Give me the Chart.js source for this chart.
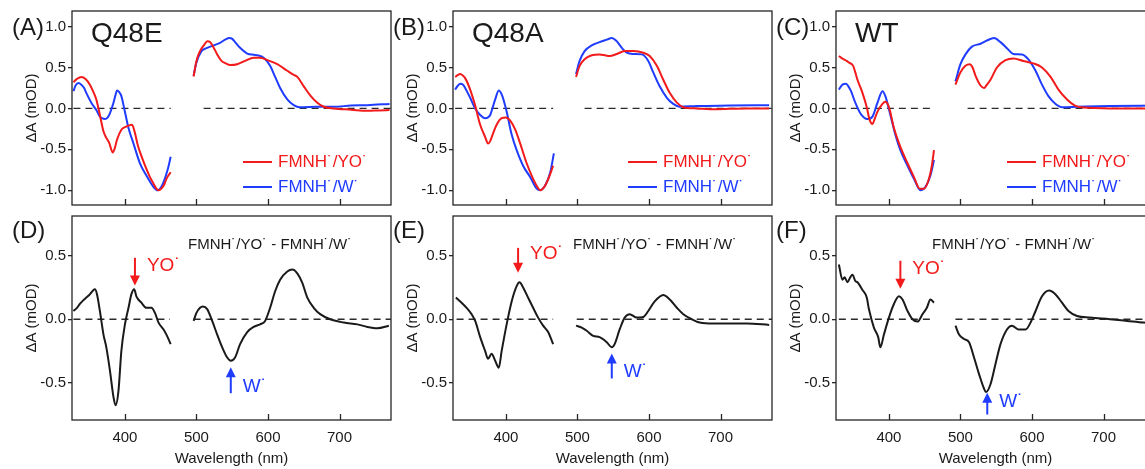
<!DOCTYPE html>
<html>
<head>
<meta charset="utf-8">
<script src="https://cdn.jsdelivr.net/npm/chart.js@4.4.1/dist/chart.umd.min.js"></script>
<style>
  html, body { margin: 0; padding: 0; background: #fff; }
  body { width: 1145px; height: 469px; overflow: hidden; position: relative; }
  canvas { position: absolute; }
</style>
</head>
<body>
<canvas id="pA" width="395" height="216" style="left:0px;top:0px"></canvas>
<canvas id="pB" width="395" height="216" style="left:381px;top:0px"></canvas>
<canvas id="pC" width="395" height="216" style="left:764px;top:0px"></canvas>
<canvas id="pD" width="395" height="264" style="left:0px;top:205px"></canvas>
<canvas id="pE" width="395" height="264" style="left:381px;top:205px"></canvas>
<canvas id="pF" width="395" height="264" style="left:764px;top:205px"></canvas>
<script>
// wavelength (nm) / dA (mOD) pairs; null marks the gap between the two detector windows
const q48eYO = [[328,0.32],[333,0.36],[339,0.385],[345,0.36],[351,0.29],[356,0.20],[360,0.11],[365,-0.08],[370,-0.28],[374,-0.36],[378,-0.42],[383,-0.54],[386,-0.48],[389,-0.38],[395,-0.26],[400,-0.23],[405,-0.21],[410,-0.20],[414,-0.30],[418,-0.45],[423,-0.58],[430,-0.74],[435,-0.84],[440,-0.92],[444,-0.98],[447,-1.0],[451,-0.98],[455,-0.93],[458,-0.86],[464,-0.78],
  null,
  [496,0.39],[500,0.58],[505,0.70],[511,0.78],[515,0.82],[519,0.81],[523,0.76],[529,0.66],[535,0.58],[541,0.55],[547,0.53],[557,0.54],[568,0.58],[580,0.62],[589,0.62],[599,0.59],[613,0.54],[627,0.46],[636,0.41],[641,0.385],[650,0.27],[659,0.16],[669,0.07],[678,0.02],[692,0.0],[716,-0.015],[739,-0.03],[755,-0.025],[770,-0.02]];
const q48eW = [[328,0.21],[331,0.28],[335,0.31],[339,0.29],[343,0.25],[346,0.19],[353,0.07],[360,-0.02],[365,-0.10],[368,-0.12],[372,-0.13],[376,-0.11],[379,-0.06],[384,0.07],[387,0.17],[389,0.22],[392,0.20],[395,0.15],[399,0.0],[405,-0.24],[412,-0.43],[421,-0.67],[430,-0.82],[440,-0.96],[446,-1.0],[450,-0.97],[454,-0.90],[460,-0.74],[464,-0.59],
  null,
  [496,0.40],[500,0.56],[507,0.70],[515,0.74],[524,0.77],[533,0.80],[540,0.84],[546,0.86],[550,0.85],[554,0.81],[561,0.74],[571,0.67],[580,0.655],[585,0.65],[594,0.62],[603,0.52],[610,0.385],[617,0.25],[627,0.11],[636,0.04],[645,0.015],[669,0.02],[692,0.02],[716,0.035],[739,0.04],[770,0.055]];

const q48aYO = [[329,0.385],[333,0.41],[336,0.42],[340,0.40],[343,0.37],[350,0.23],[357,0.035],[364,-0.20],[371,-0.35],[375,-0.43],[378,-0.40],[381,-0.33],[387,-0.20],[394,-0.12],[400,-0.11],[406,-0.15],[413,-0.26],[420,-0.43],[429,-0.67],[438,-0.86],[444,-0.96],[448,-1.0],[455,-0.94],[462,-0.80],[466,-0.70],
  null,
  [498,0.385],[503,0.52],[510,0.60],[520,0.65],[531,0.66],[540,0.645],[545,0.64],[555,0.665],[566,0.70],[578,0.70],[592,0.68],[601,0.64],[611,0.52],[620,0.35],[629,0.19],[639,0.07],[648,0.015],[667,0.0],[690,-0.01],[737,0.0],[768,0.0]];
const q48aW = [[329,0.23],[333,0.28],[336,0.30],[340,0.29],[343,0.25],[350,0.13],[357,0.0],[364,-0.08],[371,-0.12],[375,-0.11],[378,-0.08],[385,0.11],[390,0.22],[395,0.15],[401,-0.04],[408,-0.32],[415,-0.51],[424,-0.70],[434,-0.84],[443,-0.98],[448,-1.0],[455,-0.94],[462,-0.78],[467,-0.55],
  null,
  [498,0.42],[503,0.58],[510,0.70],[520,0.77],[531,0.81],[541,0.84],[548,0.86],[555,0.82],[562,0.74],[569,0.68],[578,0.665],[590,0.66],[599,0.58],[606,0.44],[615,0.27],[625,0.13],[634,0.055],[643,0.02],[667,0.03],[713,0.035],[768,0.04]];

const wtYO = [[330,0.64],[333,0.62],[337,0.60],[341,0.58],[344,0.56],[350,0.52],[353,0.44],[356,0.35],[363,0.19],[369,0.015],[373,-0.14],[377,-0.19],[380,-0.13],[384,-0.04],[391,0.055],[395,0.08],[400,0.015],[407,-0.24],[416,-0.47],[426,-0.67],[435,-0.84],[443,-0.98],[449,-0.98],[456,-0.86],[460,-0.70],[463,-0.51],
  null,
  [493,0.29],[500,0.44],[507,0.52],[513,0.54],[517,0.50],[521,0.40],[528,0.28],[533,0.25],[537,0.29],[542,0.35],[551,0.50],[563,0.59],[574,0.61],[588,0.58],[602,0.55],[614,0.50],[626,0.385],[637,0.23],[649,0.11],[660,0.035],[672,0.01],[709,0.0],[772,0.0]];
const wtW = [[330,0.23],[335,0.29],[340,0.30],[344,0.26],[347,0.21],[353,0.07],[360,-0.06],[365,-0.11],[370,-0.13],[377,-0.10],[384,0.07],[391,0.21],[395,0.15],[402,-0.08],[409,-0.32],[416,-0.51],[426,-0.70],[435,-0.86],[444,-1.0],[451,-0.96],[458,-0.82],[463,-0.63],
  null,
  [493,0.33],[500,0.54],[507,0.66],[516,0.755],[528,0.79],[537,0.83],[547,0.86],[556,0.81],[565,0.735],[574,0.665],[586,0.66],[595,0.60],[605,0.46],[614,0.29],[623,0.15],[633,0.055],[642,0.015],[663,0.02],[709,0.03],[772,0.035]];

// difference spectra FMNH/YO - FMNH/W
const diffQ48E = [[328,0.065],[333,0.09],[337,0.12],[342,0.15],[346,0.17],[350,0.19],[353,0.21],[358,0.235],[361,0.195],[365,0.065],[370,-0.12],[374,-0.22],[379,-0.40],[384,-0.61],[387,-0.675],[391,-0.56],[395,-0.25],[400,-0.04],[405,0.09],[409,0.195],[413,0.235],[416,0.18],[423,0.13],[430,0.09],[437,0.09],[442,0.05],[447,-0.026],[454,-0.08],[458,-0.12],[464,-0.195],
  null,
  [496,-0.013],[500,0.05],[505,0.09],[509,0.10],[515,0.08],[522,-0.013],[529,-0.12],[536,-0.22],[543,-0.30],[548,-0.325],[554,-0.30],[561,-0.195],[571,-0.10],[580,-0.06],[589,-0.04],[596,-0.013],[603,0.09],[610,0.22],[617,0.31],[627,0.375],[634,0.39],[641,0.36],[648,0.285],[655,0.17],[664,0.09],[673,0.04],[687,0.0],[706,-0.026],[725,-0.04],[739,-0.06],[753,-0.07],[769,-0.05]];
const diffQ48A = [[330,0.17],[338,0.13],[345,0.09],[352,0.04],[357,-0.013],[364,-0.14],[371,-0.25],[375,-0.31],[380,-0.27],[385,-0.325],[390,-0.38],[394,-0.25],[401,-0.04],[408,0.14],[415,0.26],[419,0.29],[424,0.25],[431,0.17],[438,0.09],[445,0.013],[452,-0.05],[459,-0.10],[466,-0.195],
  null,
  [498,-0.05],[506,-0.065],[513,-0.09],[522,-0.13],[531,-0.14],[541,-0.18],[548,-0.22],[552,-0.195],[559,-0.08],[566,0.013],[573,0.04],[583,0.013],[592,0.018],[599,0.065],[608,0.14],[620,0.19],[629,0.155],[639,0.09],[648,0.04],[660,0.0],[671,-0.026],[690,-0.034],[713,-0.034],[737,-0.034],[768,-0.044]];
const diffWT = [[330,0.43],[335,0.31],[338,0.33],[342,0.29],[346,0.33],[349,0.35],[353,0.30],[356,0.29],[363,0.23],[369,0.17],[372,0.08],[379,-0.065],[385,-0.14],[388,-0.22],[393,-0.12],[400,0.013],[407,0.12],[414,0.18],[419,0.155],[426,0.065],[433,0.0],[440,-0.018],[447,0.04],[453,0.09],[458,0.155],[463,0.13],
  null,
  [493,-0.05],[498,-0.12],[505,-0.155],[512,-0.18],[519,-0.30],[526,-0.43],[532,-0.53],[536,-0.57],[542,-0.51],[549,-0.35],[556,-0.195],[565,-0.08],[572,-0.05],[581,-0.08],[591,-0.08],[598,-0.026],[605,0.065],[614,0.18],[624,0.225],[633,0.195],[642,0.13],[651,0.065],[663,0.026],[681,0.013],[709,0.0],[733,-0.013],[756,-0.026],[772,-0.03]];

// dashed baselines (same two windows)
const zeroA = [[328,0],[464,0],null,[510,0],[772,0]];
const zeroB = [[329,0],[466,0],null,[510,0],[772,0]];
const zeroC = [[330,0],[463,0],null,[510,0],[772,0]];
const zeroD = [[328,0],[463,0],null,[496,0],[772,0]];
const zeroE = [[331,0],[466,0],null,[499,0],[772,0]];
const zeroF = [[330,0],[463,0],null,[493,0],[772,0]];

const xTicks = [400, 500, 600, 700];
const topTicks = [-1, -0.5, 0, 0.5, 1];
const bottomTicks = [-0.5, 0, 0.5];

const FONT = '"Liberation Sans", Arial, Helvetica, sans-serif';
const RED = '#f21a1a';
const BLUE = '#1f3cff';
const INK = '#1a1a1a';

function toPoints(pairs) {
  return pairs.map((p, i) => {
    if (p) return { x: p[0], y: p[1] };
    return { x: (pairs[i - 1][0] + pairs[i + 1][0]) / 2, y: null };
  });
}

function drawArrow(ctx, x, yFrom, yTip, color) {
  const dir = yTip > yFrom ? 1 : -1;
  ctx.strokeStyle = color;
  ctx.fillStyle = color;
  ctx.lineWidth = 2;
  ctx.beginPath();
  ctx.moveTo(x, yFrom);
  ctx.lineTo(x, yTip - dir * 8);
  ctx.stroke();
  ctx.beginPath();
  ctx.moveTo(x - 5, yTip - dir * 10);
  ctx.lineTo(x + 5, yTip - dir * 10);
  ctx.lineTo(x, yTip);
  ctx.closePath();
  ctx.fill();
}

// frame, inner x ticks, panel letters, legend and arrow labels
const panelDecor = {
  id: 'panelDecor',
  afterDraw(chart, args, o) {
    const { ctx, chartArea: a, scales: { x, y } } = chart;
    ctx.save();
    ctx.strokeStyle = '#262626';
    ctx.lineWidth = 1.3;
    ctx.strokeRect(a.left, a.top, a.width, a.height);
    ctx.beginPath();
    xTicks.forEach(v => {
      const px = Math.round(x.getPixelForValue(v)) + 0.5;
      ctx.moveTo(px, a.bottom);
      ctx.lineTo(px, a.bottom - 6);
    });
    ctx.stroke();

    ctx.textBaseline = 'middle';
    ctx.textAlign = 'left';
    ctx.fillStyle = INK;
    ctx.font = '24px ' + FONT;
    ctx.fillText(o.letter, a.left - 60, a.top + o.letterDy);

    if (o.name) {
      ctx.font = '28px ' + FONT;
      ctx.fillText(o.name, a.left + 19, a.top + 23);
    }

    if (o.legendX) {
      chart.data.datasets.slice(0, 2).forEach((ds, i) => {
        const yy = a.top + 151 + i * 25;
        ctx.strokeStyle = ds.borderColor;
        ctx.lineWidth = 2;
        ctx.beginPath();
        ctx.moveTo(a.left + o.legendX, yy);
        ctx.lineTo(a.left + o.legendX + 29, yy);
        ctx.stroke();
        ctx.fillStyle = ds.borderColor;
        ctx.font = '17px ' + FONT;
        ctx.fillText(ds.label, a.left + o.legendX + 35, yy);
      });
    }

    if (o.subtitle) {
      ctx.fillStyle = INK;
      ctx.font = '15px ' + FONT;
      ctx.fillText(o.subtitle, a.left + o.subtitleX, a.top + 29);
    }

    (o.marks || []).forEach(m => {
      const px = x.getPixelForValue(m.x);
      drawArrow(ctx, px, y.getPixelForValue(m.from), y.getPixelForValue(m.to), m.color);
      ctx.fillStyle = m.color;
      ctx.font = '19px ' + FONT;
      ctx.fillText(m.text, px + 12, y.getPixelForValue(m.textY));
    });
    ctx.restore();
  }
};

function lineSet(label, pairs, color) {
  return { label, data: toPoints(pairs), borderColor: color, borderWidth: 2, pointRadius: 0, cubicInterpolationMode: 'monotone' };
}
function zeroSet(pairs) {
  return { label: 'zero', data: toPoints(pairs), borderColor: '#2a2a2a', borderWidth: 1.4, borderDash: [7, 5], pointRadius: 0, tension: 0 };
}

function makePanel(id, datasets, isTop, deco) {
  const yTicks = isTop ? topTicks : bottomTicks;
  return new Chart(document.getElementById(id), {
    type: 'line',
    data: { datasets },
    options: {
      responsive: false,
      animation: false,
      events: [],
      layout: { padding: isTop ? { top: 11, right: 4, bottom: 1, left: 0 } : { top: 10, right: 4, bottom: 0, left: 0 } },
      scales: {
        x: {
          type: 'linear', min: 326, max: 772,
          afterBuildTicks: s => { s.ticks = xTicks.map(v => ({ value: v })); },
          afterFit: s => { s.height = isTop ? 0 : 49; },
          grid: { display: false },
          border: { display: false },
          ticks: { display: !isTop, padding: 1, color: INK, font: { family: FONT, size: 15 } },
          title: { display: !isTop, text: 'Wavelength (nm)', color: INK, font: { family: FONT, size: 15 }, padding: { top: 0, bottom: 1 } }
        },
        y: {
          min: isTop ? -1.18 : -0.79,
          max: isTop ? 1.19 : 0.81,
          afterBuildTicks: s => { s.ticks = yTicks.map(v => ({ value: v })); },
          afterFit: s => { s.width = 72; },
          grid: { drawOnChartArea: false, tickLength: 4, color: '#262626', lineWidth: 1.3 },
          border: { display: false },
          ticks: { padding: 2, color: INK, font: { family: FONT, size: 15 }, callback: v => v.toFixed(1) },
          title: { display: true, text: 'ΔA (mOD)', color: INK, font: { family: FONT, size: 15 }, padding: { top: 23, bottom: 0 } }
        }
      },
      plugins: { legend: { display: false }, tooltip: { enabled: false }, panelDecor: deco }
    },
    plugins: [panelDecor]
  });
}

const YO = 'FMNH˙/YO˙';
const W = 'FMNH˙/W˙';
const DIFF = 'FMNH˙/YO˙ - FMNH˙/W˙';

makePanel('pA', [lineSet(YO, q48eYO, RED), lineSet(W, q48eW, BLUE), zeroSet(zeroA)], true,
  { letter: '(A)', letterDy: 17, name: 'Q48E', legendX: 171 });
makePanel('pB', [lineSet(YO, q48aYO, RED), lineSet(W, q48aW, BLUE), zeroSet(zeroB)], true,
  { letter: '(B)', letterDy: 17, name: 'Q48A', legendX: 175 });
makePanel('pC', [lineSet(YO, wtYO, RED), lineSet(W, wtW, BLUE), zeroSet(zeroC)], true,
  { letter: '(C)', letterDy: 17, name: 'WT', legendX: 171 });

makePanel('pD', [lineSet(DIFF, diffQ48E, INK), zeroSet(zeroD)], false,
  { letter: '(D)', letterDy: 15, subtitle: DIFF, subtitleX: 116, marks: [
    { x: 414, from: 0.482, to: 0.264, textY: 0.42, color: RED, text: 'YO˙' },
    { x: 548, from: -0.58, to: -0.377, textY: -0.532, color: BLUE, text: 'W˙' }] });
makePanel('pE', [lineSet(DIFF, diffQ48A, INK), zeroSet(zeroE)], false,
  { letter: '(E)', letterDy: 15, subtitle: DIFF, subtitleX: 120, marks: [
    { x: 417, from: 0.56, to: 0.365, textY: 0.514, color: RED, text: 'YO˙' },
    { x: 548, from: -0.464, to: -0.268, textY: -0.415, color: BLUE, text: 'W˙' }] });
makePanel('pF', [lineSet(DIFF, diffWT, INK), zeroSet(zeroF)], false,
  { letter: '(F)', letterDy: 15, subtitle: DIFF, subtitleX: 96, marks: [
    { x: 416, from: 0.459, to: 0.24, textY: 0.397, color: RED, text: 'YO˙' },
    { x: 537.5, from: -0.747, to: -0.576, textY: -0.65, color: BLUE, text: 'W˙' }] });
</script>
</body>
</html>
